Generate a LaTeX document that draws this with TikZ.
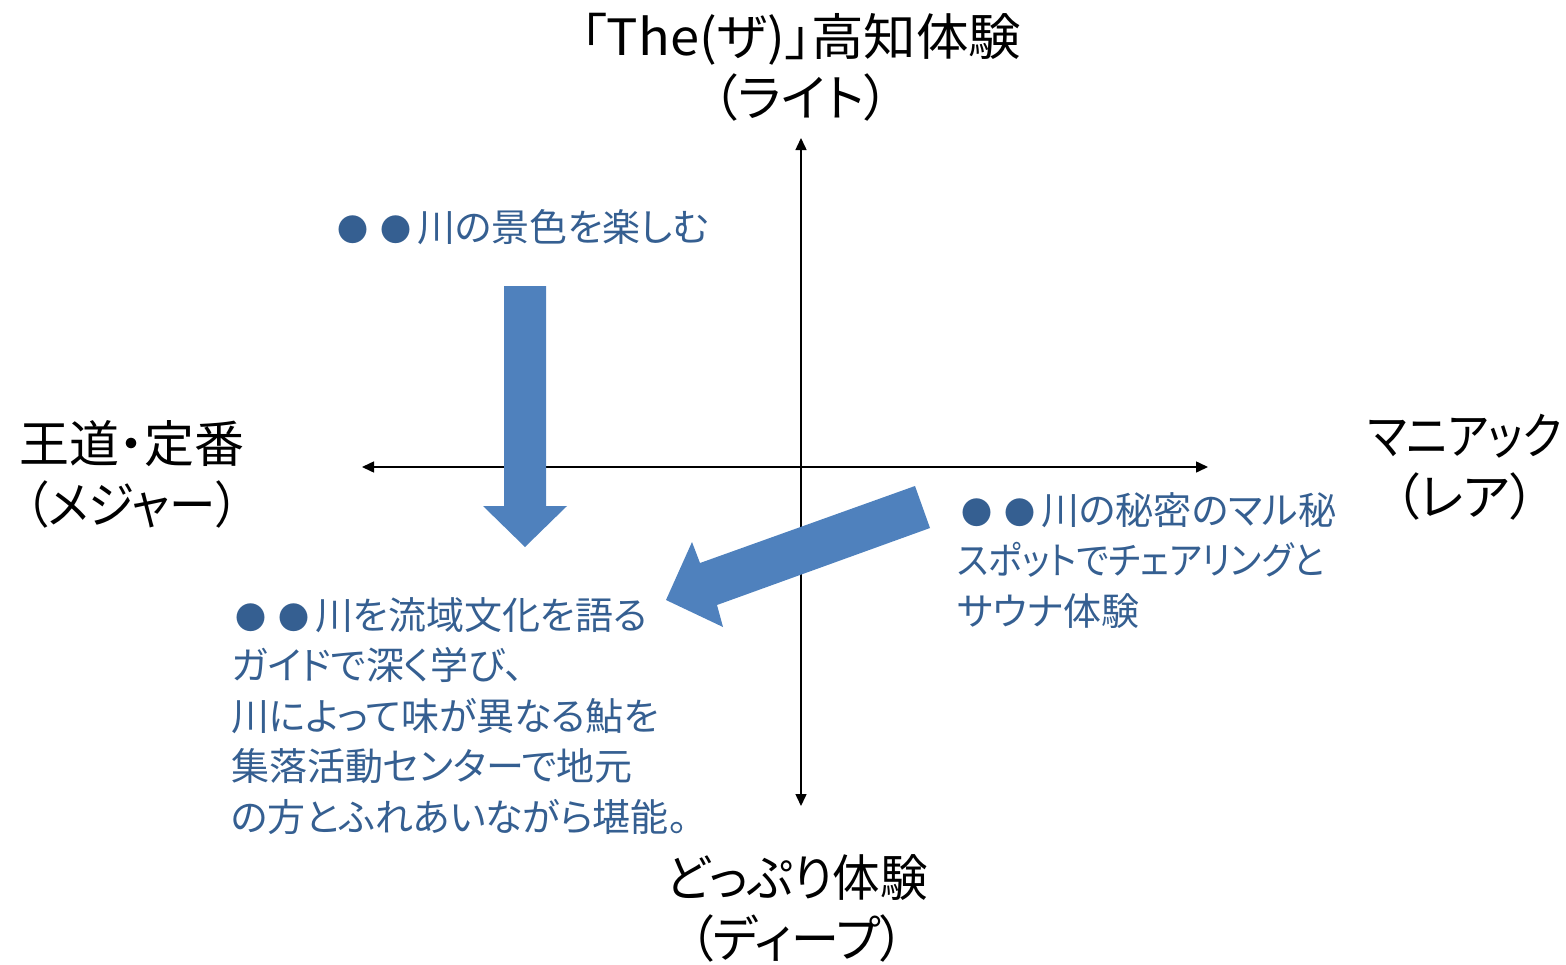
\documentclass[tikz,border=0pt]{standalone}
\usepackage{fontspec}
\setmainfont{Noto Sans CJK JP}[RawFeature=+palt]
\usetikzlibrary{arrows.meta}
\definecolor{txtblue}{HTML}{355F91}
\definecolor{arrblue}{HTML}{4F81BD}
\newcommand{\dotb}{{\fontsize{31}{31}\selectfont ●}}
\newcommand{\twodots}{\hspace{4pt}\dotb\hspace{12pt}\dotb\hspace{6pt}}
\tikzset{
  axislabel/.style={align=center, inner sep=0pt, font=\fontsize{50}{61}\selectfont},
  bluetext/.style={align=left, inner sep=0pt, text=txtblue, font=\fontsize{38}{50.5}\selectfont},
  axisline/.style={line width=1.5pt, {Triangle[length=12pt,width=11pt]}-{Triangle[length=12pt,width=11pt]}},
  blockarrow/.style={fill=arrblue, draw=none}
}
\begin{document}
\begin{tikzpicture}[x=1pt,y=-1pt]
\useasboundingbox (0,0) rectangle (1566,964);
% axes
\coordinate (top) at (801,138);
\coordinate (bottom) at (801,806);
\coordinate (left) at (362,467);
\coordinate (right) at (1208,467);
\draw[axisline] (top) -- (bottom);
\draw[axisline] (left) -- (right);
% axis labels
\node[axislabel] (lt) at (801,67) {\scalebox{1.05}[1]{「The(ザ)」高知体験}\\（ライト）};
\node[axislabel] (lb) at (797,908) {\scalebox{0.95}[1]{どっぷり体験}\\\scalebox{0.96}[1]{（ディープ）}};
\node[axislabel] (ll) at (132,474) {王道・定番\\\scalebox{0.93}[1]{（メジャー）}};
\node[axislabel] (lr) at (1465,467) {\scalebox{0.875}[1]{マニアック}\\（レア）};
% block arrows
\fill[blockarrow] (504,286) -- (546,286) -- (546,506) -- (567,506) -- (525,547) -- (483,506) -- (504,506) -- cycle;
\fill[blockarrow] (915,486) -- (930,528) -- (717,605) -- (723,627) -- (666,600) -- (692,542) -- (700,563) -- cycle;
% blue texts
\node[bluetext, anchor=west] (t1) at (333,227) {\twodots 川の景色を楽しむ};
\node[bluetext, anchor=north west] (t2) at (957,492) {\twodots 川の秘密のマル秘\\\scalebox{0.92}[1]{スポットでチェアリングと}\\サウナ体験};
\node[bluetext, anchor=north west] (t3) at (231,597) {\twodots 川を流域文化を語る\\ガイドで深く学び、\\川によって味が異なる鮎を\\集落活動センターで地元\\の方とふれあいながら堪能。};
\end{tikzpicture}
\end{document}
